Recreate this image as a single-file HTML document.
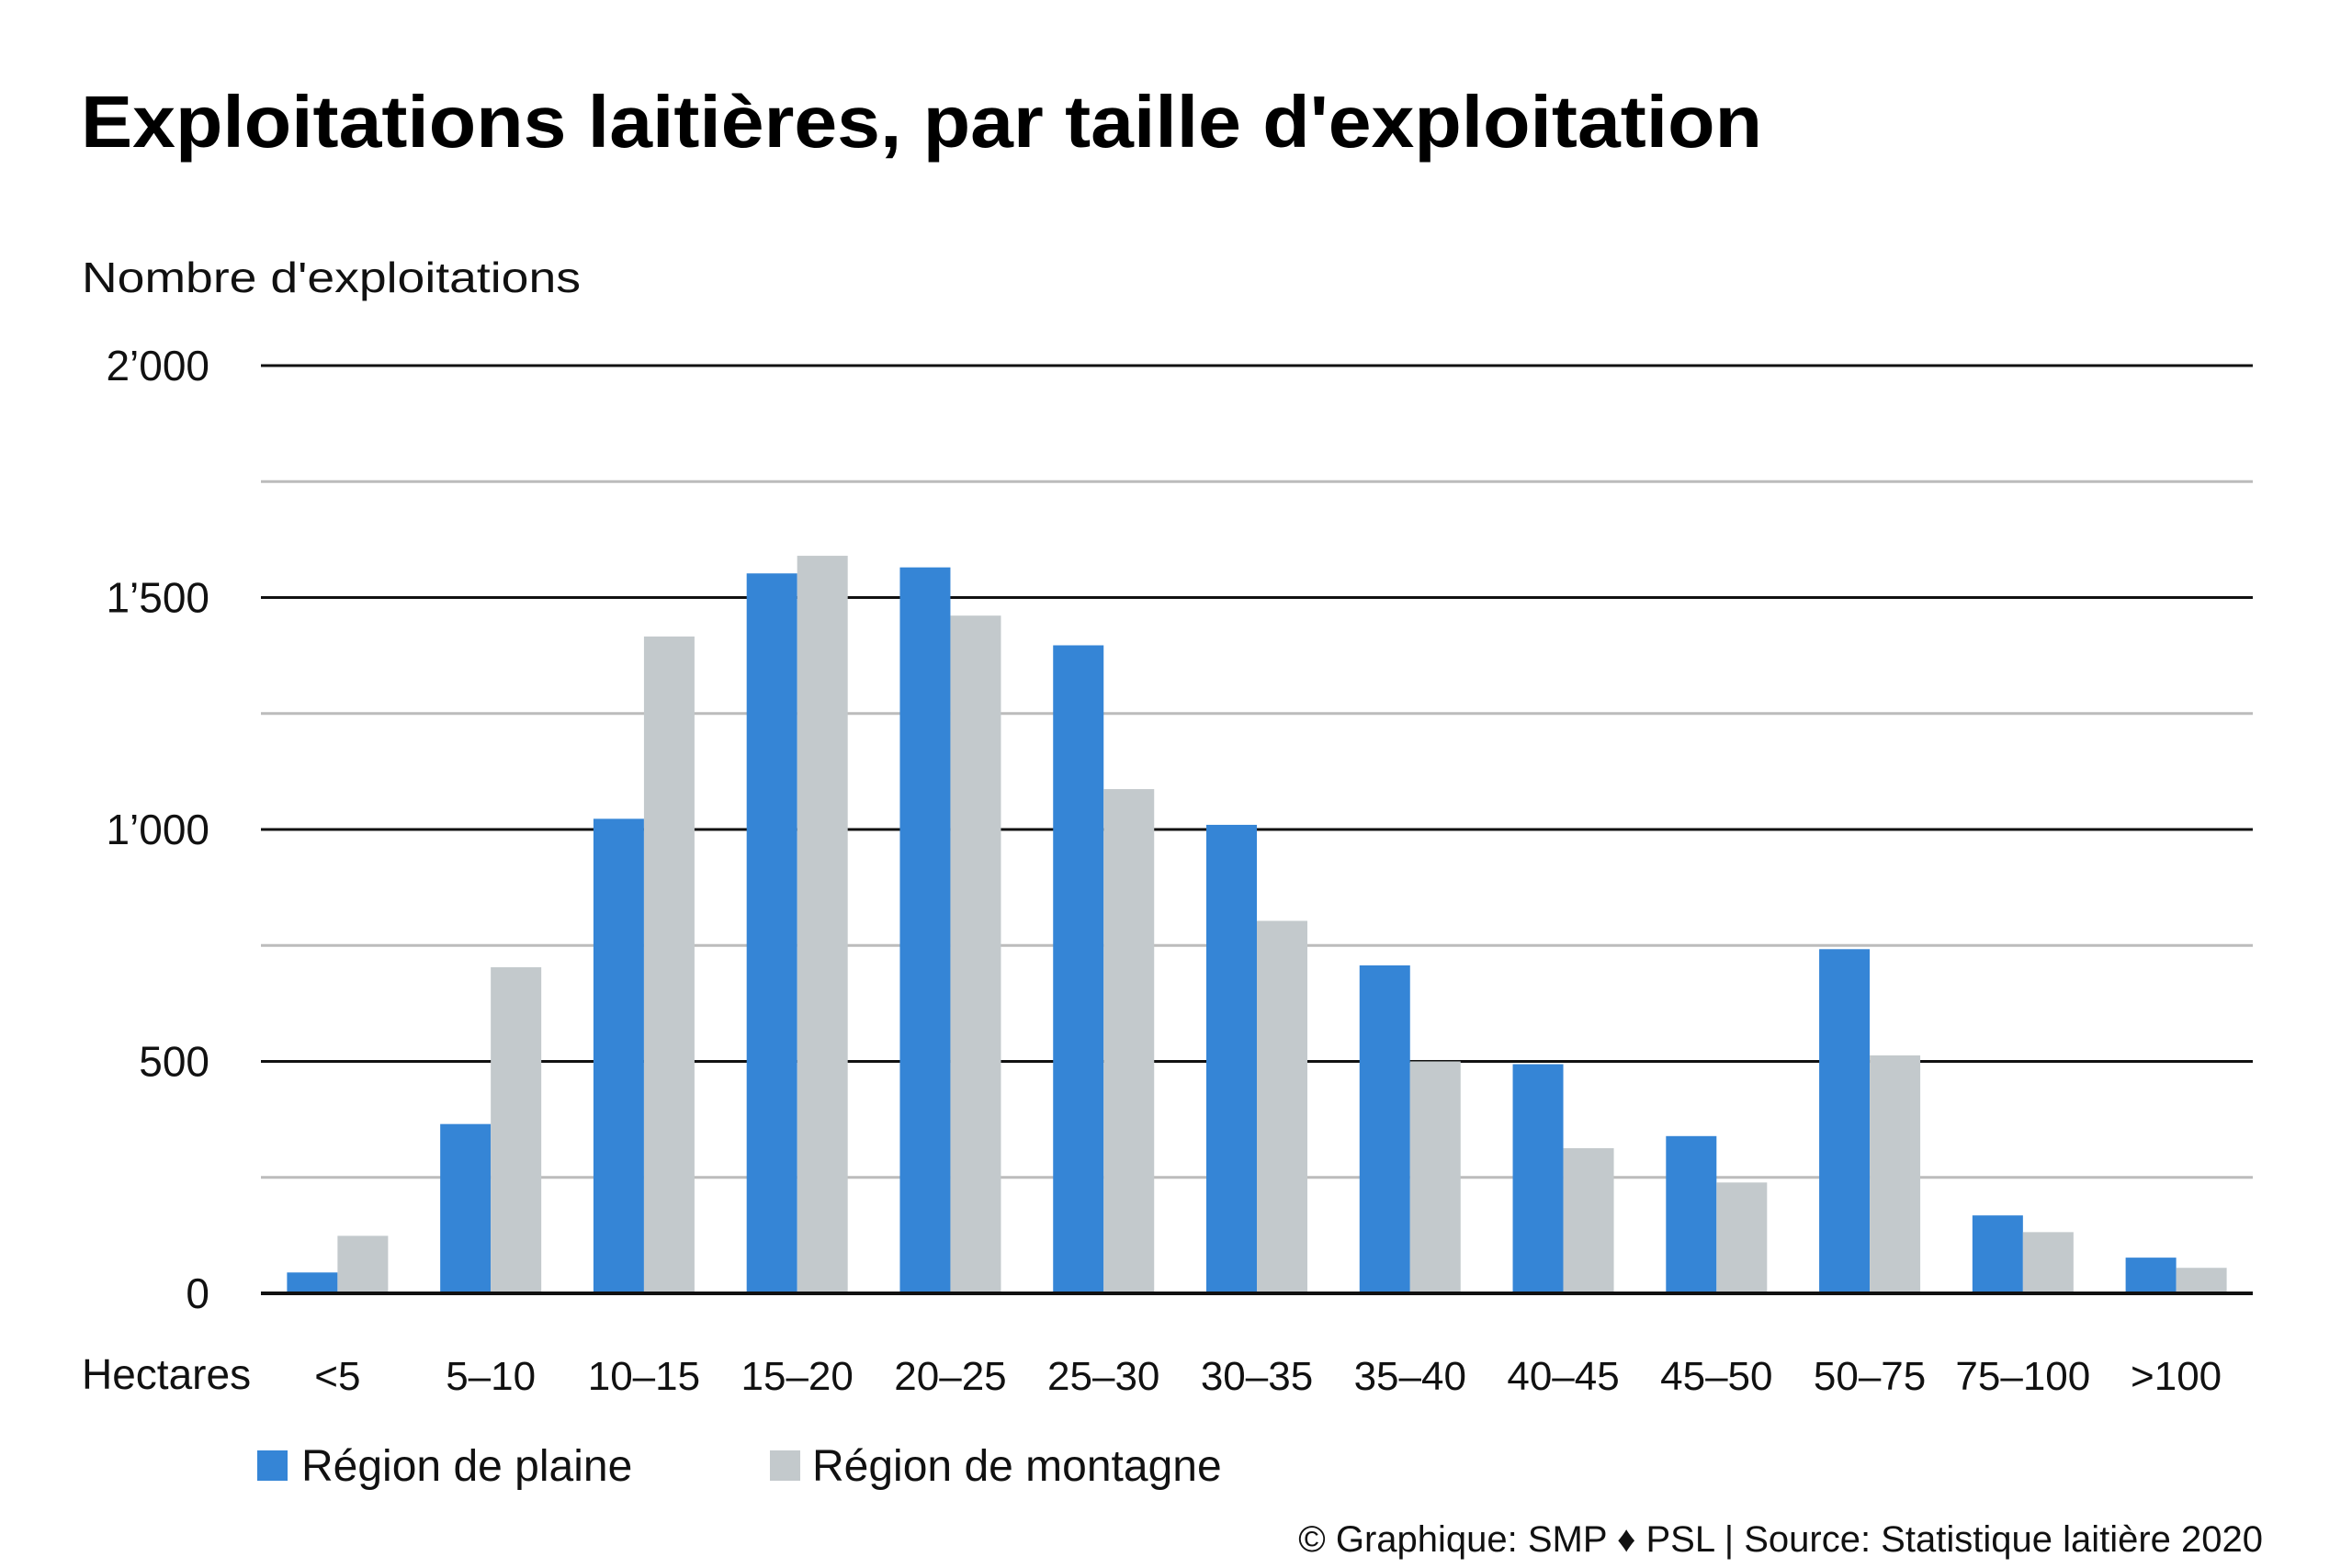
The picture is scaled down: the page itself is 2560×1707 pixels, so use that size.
<!DOCTYPE html>
<html><head><meta charset="utf-8"><style>
html,body{margin:0;padding:0;background:#fff;}
svg{display:block;font-family:"Liberation Sans",sans-serif;}
</style></head><body>
<svg id="chart" width="2560" height="1707" viewBox="0 0 2560 1707" xmlns="http://www.w3.org/2000/svg">
<text x="88" y="160" font-size="80" font-weight="bold" fill="#000" textLength="1830" lengthAdjust="spacingAndGlyphs">Exploitations laitières, par taille d'exploitation</text>
<text x="89" y="318" font-size="46" fill="#111" textLength="543" lengthAdjust="spacingAndGlyphs">Nombre d'exploitations</text>
<g id="grid"></g>
<g id="bars"></g>
<g id="xlabels"></g>
<text x="89" y="1512" font-size="46" fill="#111">Hectares</text>
<rect x="280" y="1579" width="33" height="33" fill="#3585d6"/>
<text x="328" y="1612" font-size="48" fill="#111">Région de plaine</text>
<rect x="838" y="1579" width="33" height="33" fill="#c3c9cc"/>
<text x="884" y="1612" font-size="48" fill="#111">Région de montagne</text>
<text x="2463" y="1689" font-size="40" fill="#111" text-anchor="end">© Graphique: SMP ♦ PSL | Source: Statistique laitière 2020</text>
</svg>
<script>
const categories = ["<5","5–10","10–15","15–20","20–25","25–30","30–35","35–40","40–45","45–50","50–75","75–100",">100"];
const plaine = [45,365,1023,1552,1565,1397,1010,707,494,339,742,168,77];
const montagne = [124,703,1416,1590,1461,1087,803,500,313,239,513,132,55];
const yTicks = [0,500,1000,1500,2000];
const yTickLabels = ["0","500","1’000","1’500","2’000"];
const yMinor = [250,750,1250,1750];

const NS = "http://www.w3.org/2000/svg";
const left = 284, right = 2452, y0 = 1408, y2000 = 398, yMax = 2000;
const band = (right - left) / categories.length;
const barW = 55;
function yScale(v){ return y0 - (y0 - y2000) * v / yMax; }
function xBand(i){ return left + band * i; }
function mk(tag, attrs, parent){ const e = document.createElementNS(NS, tag); for (const k in attrs) e.setAttribute(k, attrs[k]); parent.appendChild(e); return e; }

const grid = document.getElementById('grid');
yMinor.forEach(v => {
  const l = mk('line', {x1:left, x2:right, y1:yScale(v), y2:yScale(v), stroke:'#bcbcbc', 'stroke-width':3}, grid);
  
  
});
yTicks.forEach((v, i) => {
  const l = mk('line', {x1:left, x2:right, y1:yScale(v), y2:yScale(v), stroke:'#111', 'stroke-width':3}, grid);
  
  
  const t = mk('text', {x:228, y:yScale(v) + 16, 'font-size':46, fill:'#111', 'text-anchor':'end'}, grid);
  t.textContent = yTickLabels[i];
  
  
});

const bars = document.getElementById('bars');
const xl = document.getElementById('xlabels');
categories.forEach((c, i) => {
  const gx = xBand(i) + (band - 2 * barW) / 2;
  const b1 = mk('rect', {x:gx, y:yScale(plaine[i]), width:barW, height:y0 - yScale(plaine[i]), fill:'#3585d6'}, bars);
  
  
  const b2 = mk('rect', {x:gx + barW, y:yScale(montagne[i]), width:barW, height:y0 - yScale(montagne[i]), fill:'#c3c9cc'}, bars);
  
  
  const t = mk('text', {x:gx + barW, y:1513, 'font-size':44, fill:'#111', 'text-anchor':'middle'}, xl);
  t.textContent = c;
  
  
});
const ax = mk('line', {x1:left, x2:right, y1:y0, y2:y0, stroke:'#111', 'stroke-width':4}, bars);


</script>
</body></html>
